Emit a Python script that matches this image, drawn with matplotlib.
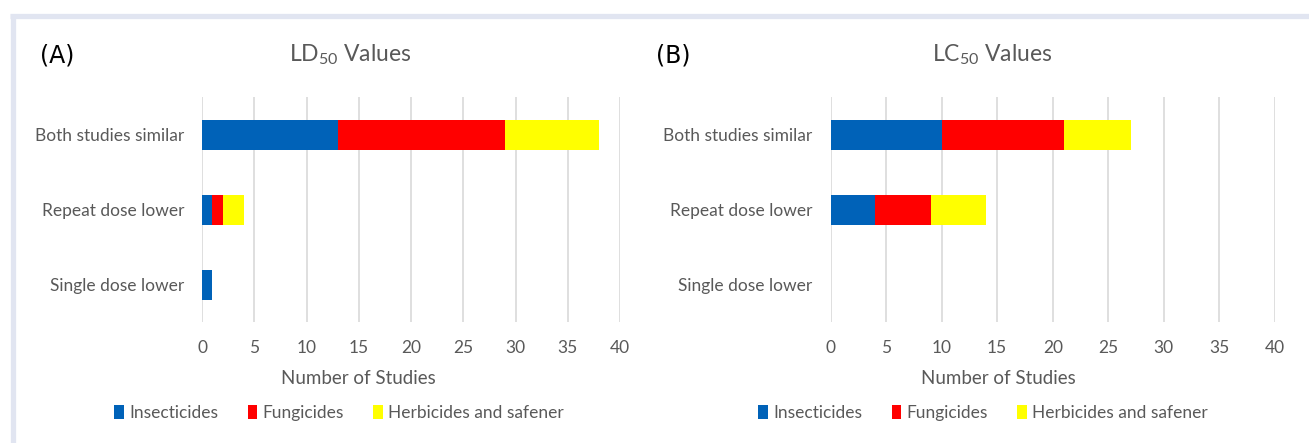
import matplotlib
matplotlib.use("Agg")
import matplotlib.pyplot as plt
from matplotlib import font_manager
from matplotlib.patches import Patch
from matplotlib.lines import Line2D
import numpy as np

# ---- data ----
categories = ["Both studies similar", "Repeat dose lower", "Single dose lower"]
series_names = ["Insecticides", "Fungicides", "Herbicides and safener"]
colors = ["#0062B8", "#FF0000", "#FFFF00"]

ld50_insecticides = [13, 1, 1]
ld50_fungicides = [16, 1, 0]
ld50_herbicides = [9, 2, 0]

lc50_insecticides = [10, 4, 0]
lc50_fungicides = [11, 5, 0]
lc50_herbicides = [6, 5, 0]

x_ticks = [0, 5, 10, 15, 20, 25, 30, 35, 40]

# ---- fonts ----
def pick_font(cands):
    for c in cands:
        try:
            font_manager.findfont(c, fallback_to_default=False)
            return c
        except Exception:
            pass
    return "DejaVu Sans"

FONT = pick_font(["Lato", "Open Sans", "DejaVu Sans"])
plt.rcParams["font.family"] = [FONT, "DejaVu Sans"]
plt.rcParams["mathtext.fontset"] = "custom"
plt.rcParams["mathtext.rm"] = FONT
plt.rcParams["mathtext.it"] = FONT

GRAY = "#595959"
W, H = 1309, 443
fig = plt.figure(figsize=(W / 100, H / 100), dpi=100)
fig.patch.set_facecolor("white")

# outer frame (top and left strips)
frame_col = "#E1E5F1"
fig.add_artist(Line2D([10 / W, 1.0], [1 - 15.5 / H, 1 - 15.5 / H], transform=fig.transFigure,
                      color=frame_col, linewidth=3.8, solid_capstyle="butt"))
fig.add_artist(Line2D([12.5 / W, 12.5 / W], [0, 1 - 13.5 / H], transform=fig.transFigure,
                      color=frame_col, linewidth=3.8, solid_capstyle="butt"))

def px(x0, y0, x1, y1):
    return [x0 / W, 1 - y1 / H, (x1 - x0) / W, (y1 - y0) / H]

panels = [
    dict(rect=px(202, 97, 620, 322), data=[ld50_insecticides, ld50_fungicides, ld50_herbicides],
         letter="(A)", letter_x=57, title=r"LD$_{\mathrm{50}}$ Values", title_x=350,
         xlabel_x=358, legend_x=339, ylab_right=184),
    dict(rect=px(830.5, 97, 1275, 322), data=[lc50_insecticides, lc50_fungicides, lc50_herbicides],
         letter="(B)", letter_x=673, title=r"LC$_{\mathrm{50}}$ Values", title_x=992,
         xlabel_x=998, legend_x=983, ylab_right=812),
]

ypos = np.arange(len(categories))
for p in panels:
    ax = fig.add_axes(p["rect"])
    left = np.zeros(len(categories))
    for vals, name, col in zip(p["data"], series_names, colors):
        ax.barh(ypos, vals, left=left, height=0.4, color=col, label=name, zorder=3)
        left += np.array(vals)
    ax.set_xlim(0, 40)
    ax.set_ylim(2.5, -0.5)
    ax.set_xticks(x_ticks)
    ax.set_xticklabels([str(t) for t in x_ticks], fontsize=12.5, color=GRAY)
    ax.set_yticks(ypos)
    ax.set_yticklabels(categories, fontsize=12.5, color=GRAY)
    ax.tick_params(axis="both", length=0)
    ax.tick_params(axis="x", pad=13)
    ax.tick_params(axis="y", pad=(p["rect"][0] * W - p["ylab_right"]) * 0.72)
    for s in ax.spines.values():
        s.set_visible(False)
    ax.grid(axis="x", color="#D9D9D9", linewidth=1.2, zorder=0)
    ax.set_axisbelow(True)

    fig.text(p["letter_x"] / W, 1 - 55 / H, p["letter"], fontsize=17, color="black",
             ha="center", va="center", family="DejaVu Sans")
    fig.text(p["title_x"] / W, 1 - 55 / H, p["title"], fontsize=16.5, color=GRAY,
             ha="center", va="center")
    fig.text(p["xlabel_x"] / W, 1 - 379 / H, "Number of Studies", fontsize=13.5,
             color=GRAY, ha="center", va="center")
    handles = [Patch(facecolor=c, edgecolor="none") for c in colors]
    fig.legend(handles, series_names, loc="center", bbox_to_anchor=(p["legend_x"] / W, 1 - 413 / H),
               ncol=3, frameon=False, fontsize=12.5, labelcolor=GRAY,
               handlelength=0.55, handleheight=0.85, handletextpad=0.3, columnspacing=1.7)

fig.savefig("out.png", dpi=100, facecolor="white")
